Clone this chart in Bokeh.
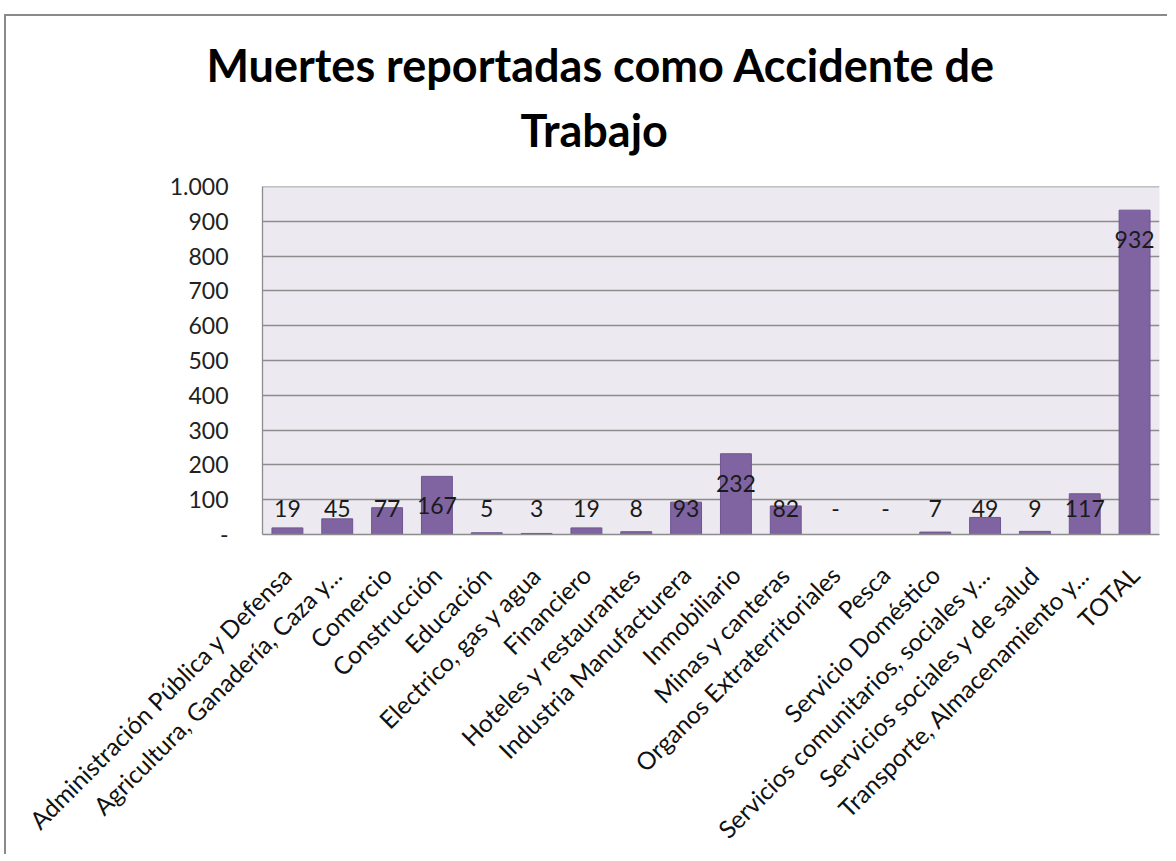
from bokeh.plotting import figure
from bokeh.models import ColumnDataSource, FixedTicker, Range1d, FactorRange, Title, Span
from bokeh.embed import file_html
from bokeh.resources import INLINE
from bokeh.core.properties import value
import math

categories = [
    "Administración Pública y Defensa",
    "Agricultura, Ganadería, Caza y...",
    "Comercio",
    "Construcción",
    "Educación",
    "Electrico, gas y agua",
    "Financiero",
    "Hoteles y restaurantes",
    "Industria Manufacturera",
    "Inmobiliario",
    "Minas y canteras",
    "Organos Extraterritoriales",
    "Pesca",
    "Servicio Doméstico",
    "Servicios comunitarios, sociales y...",
    "Servicios sociales y de salud",
    "Transporte, Almacenamiento y...",
    "TOTAL",
]
muertes = [19, 45, 77, 167, 5, 3, 19, 8, 93, 232, 82, 0, 0, 7, 49, 9, 117, 932]
y_ticks = [0, 100, 200, 300, 400, 500, 600, 700, 800, 900, 1000]
y_tick_labels = ["-", "100", "200", "300", "400", "500", "600", "700", "800", "900", "1.000"]
title_lines = ["Muertes reportadas como  Accidente de", "Trabajo"]

FONT = "Lato"

label_text = [str(v) if v > 0 else "-" for v in muertes]
label_y = [max(v - 85, 74) for v in muertes]

src = ColumnDataSource(dict(cat=categories, val=muertes, txt=label_text, ly=label_y))

p = figure(
    x_range=FactorRange(*categories, range_padding=0),
    y_range=Range1d(0, 1000),
    width=1163, height=840,
    output_backend="svg", toolbar_location=None,
    min_border_left=256, min_border_right=10, min_border_top=170, min_border_bottom=319,
)
p.margin = (14, 0, 0, 4)

p.background_fill_color = "#ECEAF0"
p.border_fill_color = "white"
p.outline_line_color = None

p.vbar(x="cat", top="val", width=0.62, source=src, fill_color="#8064A2",
       line_color="#6E5590", line_width=1)

p.text(x="cat", y="ly", text="txt", source=src, text_align="center",
       text_baseline="middle", text_font=value(FONT), text_font_size="23px",
       text_color="#1a1a1a")

# grid
p.xgrid.grid_line_color = None
p.ygrid.grid_line_color = "#8C8C8C"
p.ygrid.grid_line_width = 1.3
p.ygrid.ticker = FixedTicker(ticks=y_ticks)

# y axis
p.yaxis.ticker = FixedTicker(ticks=y_ticks)
p.yaxis.major_label_overrides = {t: l for t, l in zip(y_ticks, y_tick_labels)}
p.yaxis.axis_line_color = "#8C8C8C"
p.yaxis.axis_line_width = 1.3
p.yaxis.major_tick_line_color = None
p.yaxis.minor_tick_line_color = None
p.yaxis.major_label_text_font = FONT
p.yaxis.major_label_text_font_size = "23px"
p.yaxis.major_label_text_color = "#222222"
p.yaxis.major_label_standoff = 28

# x axis
p.xaxis.axis_line_color = "#8C8C8C"
p.xaxis.axis_line_width = 1.3
p.xaxis.major_tick_line_color = None
p.xaxis.minor_tick_line_color = None
p.xaxis.major_label_orientation = math.pi / 4
p.xaxis.major_label_text_font = FONT
p.xaxis.major_label_text_font_size = "24.5px"
p.xaxis.major_label_text_color = "#111111"
p.xaxis.major_label_standoff = 30

# top border of plot area
p.add_layout(Span(location=1000, dimension="width", line_color="#8C8C8C", line_width=1.3))

# title: two lines (added nearest-first), plus a small spacer above
p.add_layout(Title(text=title_lines[1], align="left", offset=258, standoff=59,
                   text_font=FONT, text_font_style="bold", text_font_size="45px",
                   text_color="black"), "above")
p.add_layout(Title(text=title_lines[0], align="left", offset=-56, standoff=-40,
                   text_font=FONT, text_font_style="bold", text_font_size="45px",
                   text_color="black"), "above")
p.add_layout(Title(text=" ", align="left", standoff=10, text_font_size="1px"), "above")

p.styles = {"border-top": "2px solid #8a8a8a", "border-left": "2px solid #8a8a8a"}

open("out.html", "w").write(file_html(p, INLINE))
